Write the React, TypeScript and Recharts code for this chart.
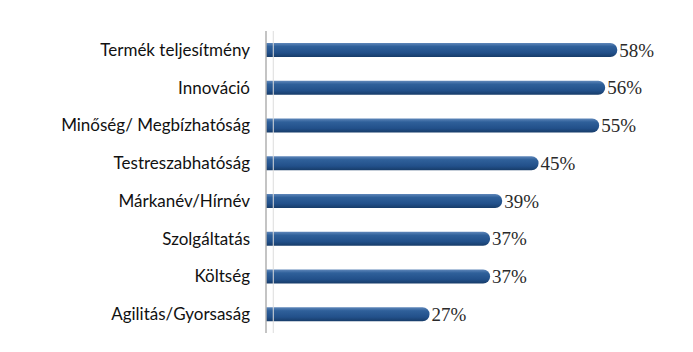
import * as React from "react";
import { BarChart, Bar, XAxis, YAxis, LabelList, ReferenceLine } from "recharts";

const categories = [
  "Termék teljesítmény",
  "Innováció",
  "Minőség/ Megbízhatóság",
  "Testreszabhatóság",
  "Márkanév/Hírnév",
  "Szolgáltatás",
  "Költség",
  "Agilitás/Gyorsaság",
];
const values = [58, 56, 55, 45, 39, 37, 37, 27];
const boundaryTicks = [0, 1, 2, 3, 4, 5, 6, 7, 8];

const data = categories.map((name, i) => ({ name, value: values[i] }));

export default function App() {
  return (
    <div style={{ position: "absolute", left: 0, top: 0, width: 693, height: 352, background: "#fff" }}>
      <BarChart
        width={693}
        height={352}
        data={data}
        layout="vertical"
        margin={{ top: 31, right: 3, bottom: 19, left: 0 }}
        barSize={14}
      >
        <defs>
          <linearGradient id="barFill" x1="0" y1="0" x2="0" y2="1">
            <stop offset="0%" stopColor="#5f87ba" />
            <stop offset="25%" stopColor="#2f609a" />
            <stop offset="70%" stopColor="#22508a" />
            <stop offset="100%" stopColor="#173c69" />
          </linearGradient>
        </defs>
        <XAxis type="number" domain={[0, 70]} hide />
        <YAxis
          type="category"
          dataKey="name"
          width={266}
          axisLine={{ stroke: "#b0b0b0", strokeWidth: 1.5 }}
          tickLine={false}
          tickMargin={10}
          tick={{ fill: "#111", fontSize: 17, fontFamily: "Lato" }}
        />
        <YAxis
          yAxisId="grid"
          type="number"
          domain={[0, 8]}
          ticks={boundaryTicks}
          width={0}
          axisLine={false}
          tick={false}
          tickSize={5}
          tickLine={{ stroke: "#b8b8b8" }}
        />
        <ReferenceLine x={1.2} stroke="#dcdcdc" strokeWidth={1} />
        <Bar dataKey="value" fill="url(#barFill)" radius={[0, 7, 7, 0]} isAnimationActive={false}>
          <LabelList
            dataKey="value"
            position="right"
            offset={2}
            formatter={(v: number) => v + "%"}
            style={{ fill: "#2a2a2a", fontSize: 19, fontFamily: "Liberation Serif" }}
          />
        </Bar>
      </BarChart>
    </div>
  );
}
